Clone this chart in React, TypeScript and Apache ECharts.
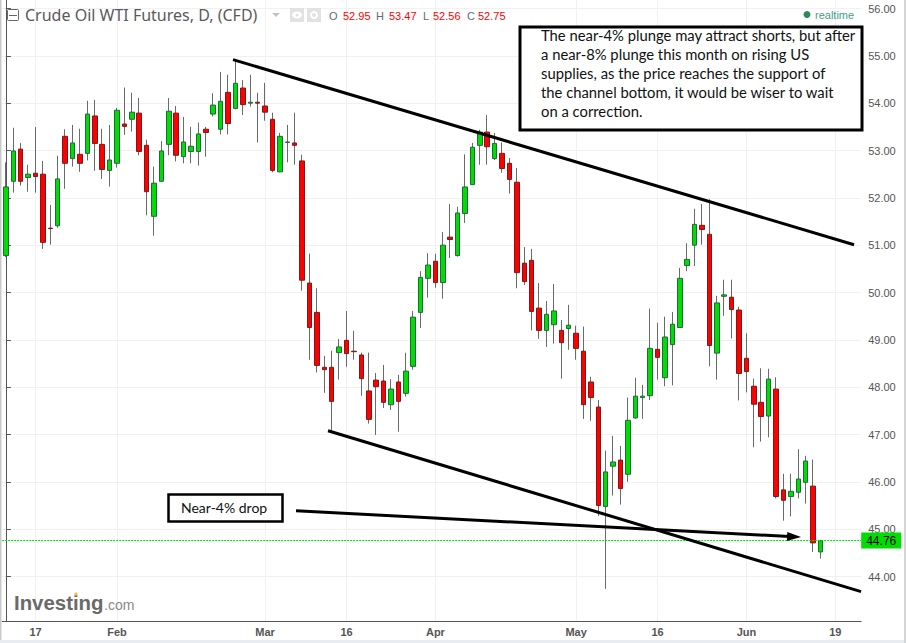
import React, { useEffect, useRef } from "react";
import * as echarts from "echarts";

// Trading days, per month (2017)
const janDays = [11, 12, 13, 16, 17, 18, 19, 20, 23, 24, 25, 26, 27, 30, 31];
const febDays = [1, 2, 3, 6, 7, 8, 9, 10, 13, 14, 15, 16, 17, 20, 21, 22, 23, 24, 27, 28];
const marDays = [1, 2, 3, 6, 7, 8, 9, 10, 13, 14, 15, 16, 17, 20, 21, 22, 23, 24, 27, 28, 29, 30, 31];
const aprDays = [3, 4, 5, 6, 7, 10, 11, 12, 13, 17, 18, 19, 20, 21, 24, 25, 26, 27, 28];
const mayDays = [1, 2, 3, 4, 5, 8, 9, 10, 11, 12, 15, 16, 17, 18, 19, 22, 23, 24, 25, 26, 29, 30, 31];
const junDays = [1, 2, 5, 6, 7, 8, 9, 12, 13, 14, 15, 16, 19, 20, 21, 22];
const categories = [
  ...janDays.map((d) => `Jan ${d}`), ...febDays.map((d) => `Feb ${d}`), ...marDays.map((d) => `Mar ${d}`),
  ...aprDays.map((d) => `Apr ${d}`), ...mayDays.map((d) => `May ${d}`), ...junDays.map((d) => `Jun ${d}`),
];
const tickLabels: Record<string, string> = {
  "Jan 17": "17", "Feb 1": "Feb", "Mar 1": "Mar", "Mar 16": "16", "Apr 3": "Apr",
  "May 1": "May", "May 16": "16", "Jun 1": "Jun", "Jun 19": "19",
};

const opens = [
  50.78, 52.35, 53.03, 52.43, 52.52, 52.50, 51.36, 51.41, 53.30, 52.83,
  52.92, 52.94, 53.73, 53.13, 52.58, 52.73, 53.56, 53.66, 53.79, 53.11,
  51.61, 52.35, 53.13, 53.79, 52.87, 52.98, 52.98, 53.45, 53.77, 53.45,
  54.23, 53.89, 54.32, 54.00, 54.02, 53.94, 53.66, 52.55, 53.17, 53.16,
  52.78, 50.20, 49.58, 48.42, 48.42, 48.73, 48.99, 48.76, 48.68, 47.92,
  48.15, 48.13, 47.63, 48.11, 47.87, 48.44, 49.58, 50.30, 50.66, 50.21,
  51.17, 50.78, 51.67, 52.28, 53.11, 53.39, 52.83, 52.94, 52.73, 52.33,
  50.62, 50.68, 49.67, 49.20, 49.32, 49.20, 49.24, 49.14, 48.76, 48.11,
  47.58, 45.48, 46.33, 46.46, 46.16, 47.35, 47.78, 47.82, 48.80, 48.20,
  48.90, 49.26, 50.57, 51.00, 51.42, 51.23, 48.72, 49.92, 49.90, 49.63,
  48.61, 48.02, 47.68, 47.39, 47.96, 45.83, 45.69, 45.78, 45.99, 45.91,
  44.52,
];
const closes = [
  52.23, 52.99, 52.35, 52.50, 52.45, 51.06, 51.35, 52.40, 52.73, 53.16,
  52.73, 53.77, 53.15, 52.60, 52.80, 53.85, 53.51, 53.81, 52.98, 52.13,
  52.31, 52.99, 53.83, 52.90, 53.18, 53.09, 53.35, 53.38, 53.96, 54.04,
  53.57, 54.42, 53.97, 54.02, 54.00, 53.81, 52.58, 53.30, 53.18, 53.11,
  50.26, 49.26, 48.46, 48.37, 47.70, 48.85, 48.71, 48.75, 48.18, 47.32,
  48.01, 47.68, 47.96, 47.70, 48.34, 49.48, 50.32, 50.58, 50.21, 51.00,
  51.12, 51.68, 52.23, 53.07, 53.39, 53.08, 53.15, 52.62, 52.39, 50.42,
  50.23, 49.60, 49.20, 49.54, 49.61, 48.94, 49.31, 48.82, 47.63, 47.78,
  45.50, 46.21, 46.42, 45.86, 47.30, 47.81, 47.81, 48.82, 48.63, 49.06,
  49.33, 50.30, 50.70, 51.44, 51.33, 48.88, 49.78, 49.95, 49.64, 48.29,
  48.33, 47.64, 47.38, 48.17, 45.69, 45.61, 45.80, 46.06, 46.44, 44.71,
  44.76,
];
const lows = [
  50.75, 52.11, 52.26, 52.13, 52.11, 50.92, 51.01, 51.37, 52.19, 52.66,
  52.55, 52.79, 52.57, 52.40, 52.24, 52.64, 53.33, 53.40, 52.90, 51.63,
  51.20, 52.35, 52.90, 52.77, 52.73, 52.73, 52.68, 52.87, 53.72, 53.34,
  53.34, 53.87, 53.75, 53.93, 53.17, 53.63, 52.54, 52.54, 52.75, 52.70,
  50.04, 48.58, 48.31, 47.88, 47.06, 48.16, 48.43, 48.58, 47.82, 47.23,
  46.99, 47.56, 47.52, 47.06, 47.80, 48.37, 49.25, 49.89, 50.10, 49.87,
  50.73, 50.76, 51.47, 52.28, 52.70, 52.70, 52.80, 52.53, 52.09, 50.09,
  50.16, 49.20, 49.02, 48.85, 48.92, 48.18, 48.79, 48.58, 47.33, 47.29,
  45.28, 43.74, 45.71, 45.52, 46.00, 47.33, 47.33, 47.73, 48.16, 48.02,
  48.04, 49.26, 50.45, 50.56, 51.01, 48.44, 48.16, 49.51, 49.03, 47.72,
  47.89, 46.73, 46.85, 46.94, 45.65, 45.18, 45.27, 45.65, 45.54, 44.52,
  44.38,
];
const highs = [
  52.75, 53.48, 53.16, 52.70, 53.50, 52.78, 51.85, 52.89, 53.45, 53.54,
  53.46, 54.05, 54.07, 53.46, 53.54, 53.90, 54.33, 54.22, 54.11, 53.23,
  52.66, 53.20, 54.11, 53.94, 53.71, 53.50, 53.59, 53.50, 54.21, 54.66,
  54.60, 54.92, 54.49, 54.60, 54.22, 54.43, 53.80, 53.37, 53.54, 53.80,
  52.91, 50.82, 50.09, 48.66, 48.77, 49.02, 49.61, 49.19, 48.73, 48.73,
  48.30, 48.47, 48.17, 48.26, 48.73, 49.61, 50.45, 50.83, 50.82, 51.28,
  51.87, 51.81, 52.92, 53.16, 53.44, 53.75, 53.37, 53.17, 52.84, 52.63,
  50.96, 50.92, 50.20, 49.82, 50.18, 49.42, 49.74, 49.30, 49.28, 48.22,
  47.73, 46.66, 46.97, 46.76, 47.78, 48.20, 48.05, 49.66, 49.36, 49.49,
  49.59, 50.52, 51.04, 51.77, 51.87, 51.97, 49.93, 50.27, 50.27, 49.70,
  49.14, 48.18, 48.40, 48.39, 48.21, 46.17, 46.17, 46.69, 46.55, 46.47,
  44.76,
];

const lastPrice = 44.76;
// Hand-drawn annotations: [fractional bar index, price]
const upperChannel = [[30.67, 54.92], [114.53, 51.01]];
const lowerChannel = [[43.5, 47.08], [115.48, 43.68]];
const dropArrow = [[39.18, 45.39], [106.43, 44.84]];

const chartTitle = "Crude Oil WTI Futures, D, (CFD)";
const ohlcLetters = ["O", "H", "L", "C"];
const ohlcValues = ["52.95", "53.47", "52.56", "52.75"];
const noteLines = [
  "The near-4% plunge may attract shorts, but after",
  "a near-8% plunge this month on rising US",
  "supplies, as the price reaches the support of",
  "the channel bottom, it would be wiser to wait",
  "on a correction.",
];
const dropNote = "Near-4% drop";

const SANS = '"Liberation Sans", Arial, sans-serif';
const GREY = "#555555";

export default function App() {
  const ref = useRef<HTMLDivElement>(null);
  useEffect(() => {
    document.body.style.margin = "0";
    const chart = echarts.init(ref.current!, undefined, { renderer: "svg" });
    const text = (x: number, y: number, t: string, style: any = {}) => ({
      type: "text", x, y, z: 100, silent: true,
      style: { text: t, fontFamily: SANS, fontSize: 11, fill: GREY, verticalAlign: "middle", ...style },
    });
    const ohlcLetterX = [329, 376, 423, 467];
    const ohlcValueX = [343, 389, 433, 478];
    const graphic: any[] = [
      { type: "rect", shape: { x: 0, y: 0, width: 1.5, height: 643 }, style: { fill: "#c9c9c9" }, z: 90, silent: true },
      { type: "rect", shape: { x: 0, y: 640, width: 906, height: 3 }, style: { fill: "#e9edf2" }, z: 90, silent: true },
      { type: "rect", shape: { x: 904, y: 0, width: 2, height: 643 }, style: { fill: "#d5d5d5" }, z: 90, silent: true },
      // legend icons
      { type: "rect", shape: { x: 7.5, y: 9.5, width: 11, height: 11, r: 1 }, style: { fill: "#fff", stroke: "#666", lineWidth: 1 }, z: 100, silent: true },
      { type: "line", shape: { x1: 9, y1: 15.5, x2: 17, y2: 15.5 }, style: { stroke: "#666", lineWidth: 1 }, z: 100, silent: true },
      { type: "polygon", shape: { points: [[272, 13], [280, 13], [276, 17]] }, style: { fill: "#c4c4c4" }, z: 100, silent: true },
      { type: "rect", shape: { x: 290, y: 8, width: 14, height: 14 }, style: { fill: "#e2e2e2" }, z: 100, silent: true },
      { type: "rect", shape: { x: 307, y: 8, width: 14, height: 14 }, style: { fill: "#e2e2e2" }, z: 100, silent: true },
      { type: "ellipse", shape: { cx: 297, cy: 15, rx: 5, ry: 3.5 }, style: { fill: "#fff" }, z: 101, silent: true },
      { type: "circle", shape: { cx: 297, cy: 15, r: 1.5 }, style: { fill: "#e2e2e2" }, z: 102, silent: true },
      { type: "circle", shape: { cx: 314, cy: 15, r: 3 }, style: { fill: "none", stroke: "#fff", lineWidth: 2 }, z: 101, silent: true },
      text(25, 15, chartTitle, { fontFamily: '"Noto Sans"', fontSize: 16, fill: "#5a5a5a" }),
      ...ohlcLetters.map((l, i) => text(ohlcLetterX[i], 15.5, l, { fontSize: 11, fill: "#5f6b78" })),
      ...ohlcValues.map((v, i) => text(ohlcValueX[i], 15.5, v, { fontSize: 11, fill: "#ff0000" })),
      { type: "circle", shape: { cx: 807, cy: 14.5, r: 3.5 }, style: { fill: "#2e8b57" }, z: 100, silent: true },
      text(815, 14.5, "realtime", { fontSize: 11, fill: "#3f9f86" }),
      // annotation boxes
      { type: "rect", shape: { x: 520, y: 27, width: 342, height: 103 }, style: { fill: "#fff", stroke: "#000", lineWidth: 3 }, z: 95, silent: true },
      ...noteLines.map((l, i) => text(541, 35 + i * 19.1, l, { fontFamily: "Lato", fontSize: 14.8, fill: "#111" })),
      { type: "rect", shape: { x: 168.5, y: 494.5, width: 114, height: 27 }, style: { fill: "#fff", stroke: "#000", lineWidth: 2.5 }, z: 95, silent: true },
      text(181, 507.5, dropNote, { fontFamily: "Lato", fontSize: 14, fill: "#111" }),
      // watermark
      text(14, 603, "Investing", { fontSize: 20.4, fontWeight: "bold", fill: "#6a6a6a" }),
      text(104, 605, ".com", { fontSize: 14, fill: "#8a8a8a" }),
      { type: "circle", shape: { cx: 76, cy: 594, r: 1.6 }, style: { fill: "#f7c04a" }, z: 101, silent: true },
    ];
    chart.setOption({
      animation: false,
      backgroundColor: "#ffffff",
      grid: { left: 2.2, right: 44.8, top: 0, bottom: 22, containLabel: false },
      xAxis: [
        {
          type: "category",
          data: categories,
          boundaryGap: true,
          axisLine: { lineStyle: { color: GREY, width: 1 } },
          axisTick: { alignWithLabel: true, length: 4, lineStyle: { color: GREY }, interval: (_: number, v: string) => v in tickLabels },
          axisLabel: {
            interval: (_: number, v: string) => v in tickLabels,
            formatter: (v: string) => tickLabels[v] ?? "",
            fontFamily: SANS, fontSize: 11, fontWeight: "bold", color: GREY, margin: 5,
          },
          splitLine: { show: true, alignWithLabel: true, lineStyle: { color: "#f1f1f1", width: 1 }, interval: (_: number, v: string) => v in tickLabels },
        },
        { type: "value", show: false, min: -0.5, max: 115.5, splitLine: { show: false } },
      ],
      yAxis: {
        type: "value",
        position: "right",
        min: 43.06,
        max: 56.18,
        splitNumber: 13,
        axisLine: { show: true, lineStyle: { color: GREY, width: 1 } },
        axisTick: { show: true, length: 5, lineStyle: { color: GREY } },
        axisLabel: {
          formatter: (v: number) => v.toFixed(2),
          showMinLabel: false, showMaxLabel: false,
          fontFamily: SANS, fontSize: 11, color: GREY, margin: 7,
        },
        splitLine: { show: true, showMinLine: false, showMaxLine: false, lineStyle: { color: "#f1f1f1", width: 1 } },
      },
      series: [
        {
          name: "Wicks", type: "candlestick", barWidth: 1, z: 2,
          data: opens.map((o, i) => [o, closes[i], lows[i], highs[i]]),
          itemStyle: { color: "#6a6a6a", color0: "#6a6a6a", borderColor: "#6a6a6a", borderColor0: "#6a6a6a", borderWidth: 1 },
          markLine: {
            silent: true, symbol: "none", animation: false,
            lineStyle: { color: "#00e000", type: [2, 1], width: 1 },
            label: {
              show: true, position: "end", distance: 0, formatter: lastPrice.toFixed(2),
              backgroundColor: "#00dd00", color: "#000", fontFamily: SANS, fontSize: 12, padding: [2, 5, 2, 5],
            },
            data: [{ yAxis: lastPrice }],
          },
        },
        {
          name: "Bodies", type: "candlestick", barWidth: 5, z: 3,
          data: opens.map((o, i) => [o, closes[i], Math.min(o, closes[i]), Math.max(o, closes[i])]),
          itemStyle: { color: "#00dd00", color0: "#ff0000", borderColor: "#1e6a3c", borderColor0: "#7a1a1a", borderWidth: 1 },
        },
        ...[upperChannel, lowerChannel].map((d, i) => ({
          name: i ? "Channel bottom" : "Channel top", type: "line", xAxisIndex: 1, yAxisIndex: 0, z: 6,
          symbol: "none", data: d, lineStyle: { color: "#000", width: 3 },
        })),
        {
          name: "Drop arrow", type: "line", xAxisIndex: 1, yAxisIndex: 0, z: 6, showSymbol: true, showAllSymbol: true,
          data: [
            { value: dropArrow[0], symbol: "none" },
            { value: dropArrow[1], symbol: "triangle", symbolSize: [9, 14], symbolRotate: -93 },
          ],
          itemStyle: { color: "#000" },
          lineStyle: { color: "#000", width: 3 },
        },
      ],
      graphic,
    });
    return () => chart.dispose();
  }, []);
  return <div ref={ref} style={{ position: "absolute", left: 0, top: 0, width: 906, height: 643 }} />;
}
